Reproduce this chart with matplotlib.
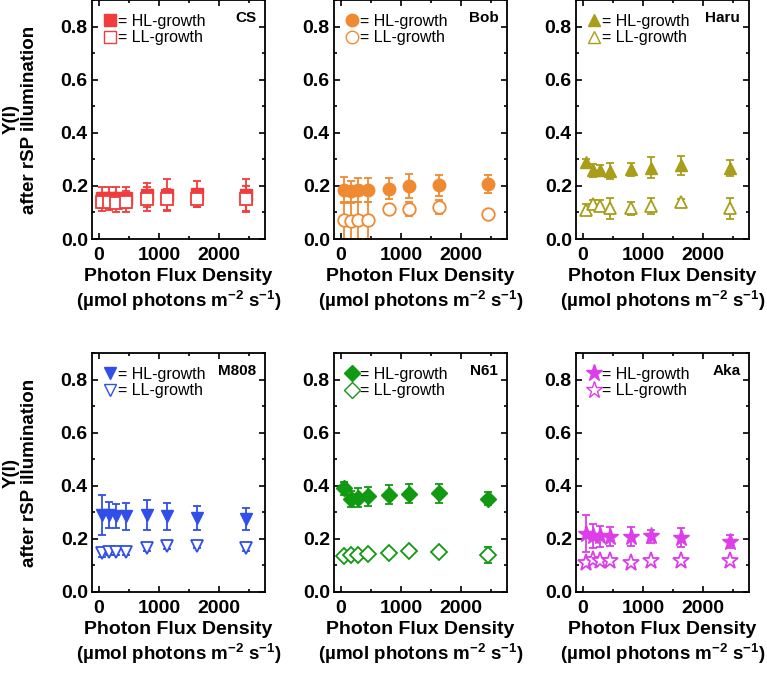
import matplotlib
matplotlib.use("Agg")
import matplotlib.pyplot as plt
from matplotlib.ticker import MultipleLocator
from matplotlib.lines import Line2D

plt.rcParams['font.family'] = ['Liberation Sans', 'DejaVu Sans']
plt.rcParams['mathtext.fontset'] = 'custom'
plt.rcParams['mathtext.rm'] = 'Liberation Sans'
plt.rcParams['mathtext.bf'] = 'Liberation Sans:bold'

# photon flux density (umol photons m-2 s-1)
pfd = [50, 180, 290, 460, 800, 1140, 1640, 2440]

strains = ['CS', 'Bob', 'Haru', 'M808', 'N61', 'Aka']
colors = ['#f03c3c', '#f08a32', '#a89e1c', '#2f4fe8', '#119a11', '#dc3ee8']
markers = ['s', 'o', '^', 'v', 'D', '*']

hl_mean = [
    [0.155, 0.155, 0.155, 0.155, 0.165, 0.165, 0.170, 0.165],
    [0.185, 0.180, 0.185, 0.185, 0.190, 0.200, 0.202, 0.207],
    [0.290, 0.258, 0.260, 0.255, 0.262, 0.268, 0.277, 0.268],
    [0.290, 0.290, 0.285, 0.285, 0.290, 0.285, 0.280, 0.275],
    [0.390, 0.350, 0.355, 0.360, 0.367, 0.370, 0.372, 0.352],
    [0.220, 0.210, 0.210, 0.208, 0.208, 0.210, 0.205, 0.190],
]
hl_err = [
    [0.040, 0.040, 0.040, 0.040, 0.045, 0.060, 0.050, 0.060],
    [0.048, 0.040, 0.045, 0.045, 0.040, 0.045, 0.040, 0.035],
    [0.012, 0.025, 0.020, 0.030, 0.025, 0.040, 0.035, 0.030],
    [0.075, 0.050, 0.045, 0.050, 0.055, 0.050, 0.045, 0.040],
    [0.025, 0.030, 0.035, 0.035, 0.035, 0.035, 0.035, 0.025],
    [0.070, 0.045, 0.040, 0.035, 0.035, 0.025, 0.035, 0.025],
]
ll_mean = [
    [0.140, 0.140, 0.135, 0.140, 0.150, 0.150, 0.150, 0.150],
    [0.070, 0.068, 0.070, 0.070, 0.113, 0.113, 0.120, 0.095],
    [0.110, 0.130, 0.125, 0.115, 0.115, 0.123, 0.140, 0.115],
    [0.145, 0.150, 0.150, 0.150, 0.165, 0.175, 0.175, 0.165],
    [0.135, 0.140, 0.140, 0.143, 0.145, 0.155, 0.150, 0.138],
    [0.110, 0.120, 0.115, 0.115, 0.110, 0.115, 0.115, 0.115],
]
ll_err = [
    [0.035, 0.030, 0.035, 0.040, 0.045, 0.040, 0.030, 0.050],
    [0.070, 0.068, 0.070, 0.070, 0.020, 0.025, 0.025, 0.010],
    [0.020, 0.015, 0.020, 0.040, 0.025, 0.030, 0.010, 0.040],
    [0.012, 0.012, 0.010, 0.010, 0.012, 0.012, 0.010, 0.012],
    [0.015, 0.010, 0.015, 0.015, 0.015, 0.010, 0.015, 0.030],
    [0.012, 0.010, 0.010, 0.010, 0.012, 0.010, 0.010, 0.010],
]

W, H = 767, 676
fig = plt.figure(figsize=(W / 100, H / 100), dpi=100)

lefts = [92, 334, 576]
rights = [265, 507, 749]
tops = [0, 353]
bottoms = [239, 592]

xlab1 = 'Photon Flux Density'
xlab2 = r'(µmol photons m$^{\mathbf{-2}}$ s$^{\mathbf{-1}}$)'

for i, name in enumerate(strains):
    r, c = divmod(i, 3)
    ax = fig.add_axes([lefts[c] / W, 1 - bottoms[r] / H,
                       (rights[c] - lefts[c]) / W, (bottoms[r] - tops[r]) / H])
    col = colors[i]
    m = markers[i]
    ms = {'*': 12.5, 'D': 8}.get(m, 9)
    ax.errorbar(pfd, hl_mean[i], yerr=hl_err[i], fmt=m, color=col, ms=ms,
                mfc=col, mec=col, ecolor=col, elinewidth=1.3, capsize=3, capthick=1.3)
    ax.errorbar(pfd, ll_mean[i], yerr=ll_err[i], fmt=m, color=col, ms=ms,
                mfc='white', mec=col, mew=1.3, ecolor=col, elinewidth=1.3,
                capsize=3, capthick=1.3)
    ax.set_xlim(-110, 2760)
    ax.set_ylim(0, 0.9)
    ax.xaxis.set_major_locator(MultipleLocator(1000))
    ax.xaxis.set_minor_locator(MultipleLocator(500))
    ax.yaxis.set_major_locator(MultipleLocator(0.2))
    ax.yaxis.set_minor_locator(MultipleLocator(0.1))
    ax.tick_params(which='both', direction='in', top=True, right=True, width=1.2)
    ax.tick_params(which='major', length=4, labelsize=14, pad=3)
    ax.tick_params(which='minor', length=2.5)
    ax.tick_params(axis='x', which='major', pad=6)
    for lab in ax.get_xticklabels() + ax.get_yticklabels():
        lab.set_fontweight('bold')
    ax.yaxis.set_major_formatter(plt.FuncFormatter(lambda v, p: f'{v:.1f}'))
    for s in ax.spines.values():
        s.set_linewidth(1.3)

    ax.text(0.95, 0.955, name, transform=ax.transAxes, ha='right', va='top',
            fontsize=11, fontweight='bold')
    h1 = Line2D([], [], ls='none', marker=m, ms=ms, color=col, mfc=col, mec=col)
    h2 = Line2D([], [], ls='none', marker=m, ms=ms, color=col, mfc='white', mec=col)
    ax.legend([h1, h2], ['= HL-growth', '= LL-growth'], loc='upper left',
              bbox_to_anchor=(0.0, 0.99), frameon=False, fontsize=11.5,
              handlelength=0.8, handletextpad=0.1, labelspacing=0.1,
              borderaxespad=0.3)

    # two-line x label, placed below the tick labels
    xc = (lefts[c] + rights[c]) / 2 / W
    fig.text(xc, 1 - (bottoms[r] + 38) / H, xlab1, ha='center', va='center',
             fontsize=14, fontweight='bold')
    fig.text(xc, 1 - (bottoms[r] + 62) / H, xlab2, ha='center', va='center',
             fontsize=13.5, fontweight='bold')
    if c == 0:
        ax.set_ylabel('Y(I)\nafter rSP illumination', fontsize=13.5,
                      fontweight='bold', labelpad=16, linespacing=1.15)

fig.savefig('out.png', dpi=100)
